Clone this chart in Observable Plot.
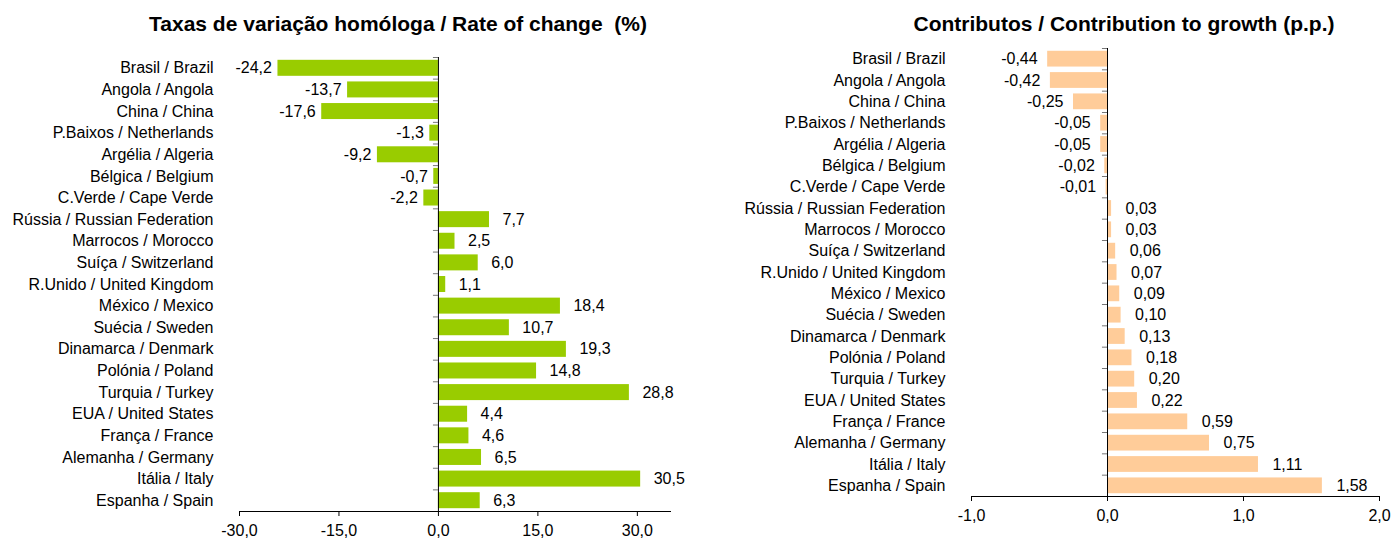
<!DOCTYPE html>
<html>
<head>
<meta charset="utf-8">
<script src="https://cdn.jsdelivr.net/npm/d3@7"></script>
<script src="https://cdn.jsdelivr.net/npm/@observablehq/plot@0.6"></script>
<style>
  body { margin: 0; background: #fff; font-family: "Liberation Sans", Arial, sans-serif; }
  #wrap { position: relative; width: 1394px; height: 538px; }
  .panel { position: absolute; top: 0; width: 697px; height: 538px; }
  .title { height: 40px; position: relative; }
  .title span { position: absolute; top: 12px; transform: translateX(-50%); white-space: nowrap;
    font-weight: bold; font-size: 21px; line-height: 24px; color: #000; }
  svg { display: block; }
</style>
</head>
<body>
<div id="wrap">
  <div class="panel" id="left"><div class="title"><span style="left:398px">Taxas de variação homóloga / Rate of change&nbsp; (%)</span></div></div>
  <div class="panel" id="right" style="left:697px"><div class="title"><span style="left:427px">Contributos / Contribution to growth (p.p.)</span></div></div>
</div>
<script>
const categories = [
  "Brasil / Brazil", "Angola / Angola", "China / China", "P.Baixos / Netherlands",
  "Argélia / Algeria", "Bélgica / Belgium", "C.Verde / Cape Verde",
  "Rússia / Russian Federation", "Marrocos / Morocco", "Suíça / Switzerland",
  "R.Unido / United Kingdom", "México / Mexico", "Suécia / Sweden",
  "Dinamarca / Denmark", "Polónia / Poland", "Turquia / Turkey",
  "EUA / United States", "França / France", "Alemanha / Germany",
  "Itália / Italy", "Espanha / Spain"
];
const rateOfChange = [-24.2, -13.7, -17.6, -1.3, -9.2, -0.7, -2.2, 7.7, 2.5, 6.0, 1.1,
  18.4, 10.7, 19.3, 14.8, 28.8, 4.4, 4.6, 6.5, 30.5, 6.3];
const contribution = [-0.44, -0.42, -0.25, -0.05, -0.05, -0.02, -0.01, 0.03, 0.03, 0.06,
  0.07, 0.09, 0.10, 0.13, 0.18, 0.20, 0.22, 0.59, 0.75, 1.11, 1.58];
const leftTicks = [-30, -15, 0, 15, 30];
const rightTicks = [-1, 0, 1, 2];

const fmt = (d, n) => d.toFixed(n).replace(".", ",");

function chart({values, color, domain, ticks, decimals, marginLeft, marginRight, marginTop, marginBottom, padding, tickLen, negDx, posDx}) {
  const data = categories.map((c, i) => ({c, v: values[i]}));
  const height = 498;
  const plotH = height - marginTop - marginBottom;
  const step = plotH / categories.length;
  const inset = step * padding / 2;
  return Plot.plot({
    width: 697,
    height,
    marginLeft, marginRight, marginTop, marginBottom,
    style: {fontFamily: "'Liberation Sans', Arial, sans-serif", fontSize: "16px", color: "#000", background: "#fff"},
    x: {domain, ticks, tickFormat: d => fmt(d, 1), label: null},
    y: {domain: categories, padding: 0, round: false, label: null},
    marks: [
      Plot.barX(data, {x: "v", y: "c", fill: color, insetTop: inset, insetBottom: inset}),
      Plot.ruleY(categories, {y: d => d, x1: -tickLen, x2: 0, dy: -step / 2, stroke: "#777", strokeWidth: 1}),
      Plot.ruleY(categories.slice(-1), {y: d => d, x1: -tickLen, x2: 0, dy: step / 2, stroke: "#777", strokeWidth: 1}),
      Plot.ruleX([0], {stroke: "#000", strokeWidth: 1}),
      Plot.text(data.filter(d => d.v < 0), {x: "v", y: "c", text: d => fmt(d.v, decimals), textAnchor: "end", dx: negDx, fill: "#000", fontSize: 16}),
      Plot.text(data.filter(d => d.v >= 0), {x: "v", y: "c", text: d => fmt(d.v, decimals), textAnchor: "start", dx: posDx, fill: "#000", fontSize: 16}),
      Plot.frame({anchor: "bottom", stroke: "#000"}),
      Plot.axisX({ticks, tickFormat: d => fmt(d, 1), tickSize: 5, tickPadding: 8, fontSize: 16, label: null}),
      Plot.axisY({tickSize: 0, tickPadding: 26, fontSize: 16, label: null})
    ]
  });
}

document.getElementById("left").appendChild(chart({
  values: rateOfChange, color: "#99CC00", domain: [-30, 35], ticks: leftTicks, decimals: 1,
  marginLeft: 239, marginRight: 27, marginTop: 17, marginBottom: 27, padding: 0.26,
  tickLen: 0.75, negDx: -6, posDx: 13
}));
document.getElementById("right").appendChild(chart({
  values: contribution, color: "#FFCC99", domain: [-1, 2], ticks: rightTicks, decimals: 2,
  marginLeft: 274, marginRight: 15, marginTop: 8, marginBottom: 42, padding: 0.26,
  tickLen: 0.037, negDx: -10, posDx: 14
}));
</script>
</body>
</html>
